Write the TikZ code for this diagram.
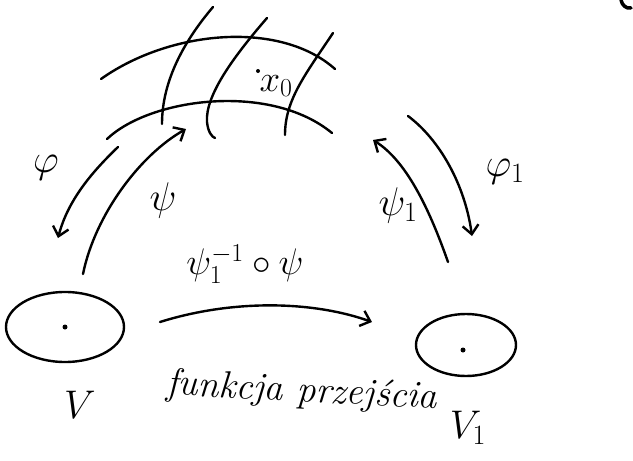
\RequirePackage{fix-cm}
\documentclass[tikz,border=0pt]{standalone}
\usetikzlibrary{arrows.meta,shapes.geometric}
\begin{document}
\begin{tikzpicture}[x=1pt,y=-1pt,
  stroke/.style={line width=2.4pt,line cap=round,line join=round},
  maparrow/.style={stroke,-{Straight Barb[length=9pt,width=16pt,line width=2.4pt]}},
  setoval/.style={draw,ellipse,line width=2.4pt,inner sep=0pt},
  pointdot/.style={circle,fill,inner sep=0pt,minimum size=5pt},
  lab/.style={font=\fontsize{40}{44}\selectfont},
  midlab/.style={font=\fontsize{37}{40}\selectfont},
  biglab/.style={font=\fontsize{38}{42}\selectfont\itshape}]
\useasboundingbox (0,0) rectangle (633,461);
% chart grid
\draw[stroke] (101,79) .. controls (170,30) and (280,20) .. (335,69);
\draw[stroke] (107,139) .. controls (150,98) and (270,82) .. (332,133);
\draw[stroke] (213,7) .. controls (185,40) and (162,80) .. (162,124);
\draw[stroke] (267,18) .. controls (235,55) and (205,95) .. (207,122) .. controls (208,132) and (212,137) .. (215,138);
\draw[stroke] (333,33) .. controls (305,75) and (285,100) .. (285,135);
% x0
\node[pointdot,minimum size=4pt] (x0dot) at (258,71) {};
\node[midlab] (x0) at (276,86) {$x_0$};
% anchor coordinates on the chart
\coordinate (phistart) at (118,147);
\coordinate (psiend) at (186,129);
\coordinate (psionestart) at (448,262);
\coordinate (psioneend) at (373,140);
\coordinate (phionestart) at (408,116);
\coordinate (phioneend) at (472,236);
% sets
\node[setoval,minimum width=118pt,minimum height=70pt] (V) at (65,327) {};
\node[pointdot] (Vdot) at (65,327) {};
\node[setoval,minimum width=100pt,minimum height=62pt] (V1) at (466,345) {};
\node[pointdot] (V1dot) at (463,350) {};
\node[lab] (Vlab) at (80,405) {$V$};
\node[lab] (V1lab) at (468,428) {$V_1$};
\coordinate (Vtop) at (83,274);
\coordinate (transA) at (160,322);
\coordinate (transB) at (372,322);
% maps
\draw[maparrow] (phistart) .. controls (92,172) and (68,200) .. (58,238);
\draw[maparrow] (Vtop) .. controls (95,215) and (140,155) .. (psiend);
\draw[maparrow] (psionestart) .. controls (428,205) and (405,160) .. (psioneend);
\draw[maparrow] (phionestart) .. controls (440,140) and (465,185) .. (phioneend);
\draw[maparrow] (transA) .. controls (230,300) and (310,300) .. (transB);
% labels
\node[lab] (philab) at (46,168) {$\varphi$};
\node[lab] (psilab) at (163,200) {$\psi$};
\node[lab] (psionelab) at (398,205) {$\psi_1$};
\node[lab] (phionelab) at (505,172) {$\varphi_1$};
\node[midlab] (translab) at (245,264) {$\psi_1^{-1}\circ\psi$};
\node[biglab,rotate=-3] (fun) at (302,392) {funkcja przejścia};
% corner fragment
\draw[stroke,line width=3.5pt] (621,0) .. controls (622,5) and (626,9) .. (631,8);
\end{tikzpicture}
\end{document}
